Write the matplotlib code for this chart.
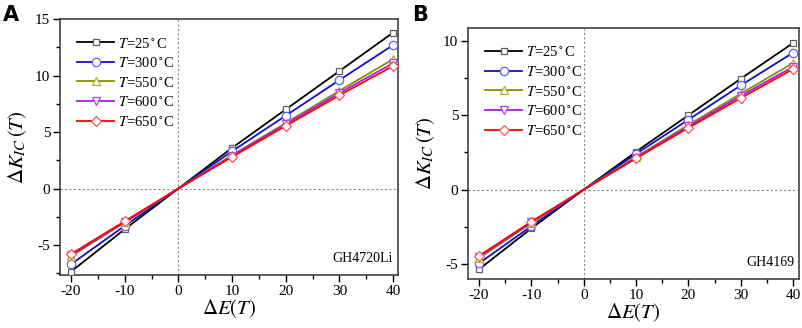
import numpy as np
import matplotlib
matplotlib.use('Agg')
import matplotlib.pyplot as plt
from matplotlib.ticker import MultipleLocator

plt.rcParams['font.family'] = ['Liberation Serif', 'DejaVu Serif']
plt.rcParams['mathtext.fontset'] = 'stix'
plt.rcParams['axes.unicode_minus'] = False

# data
dE = [-20, -10, 0, 10, 20, 30, 40]
temps = ['25', '300', '550', '600', '650']

dK_A = {
    '25':  [-7.35, -3.6, 0, 3.6, 7.0, 10.4, 13.8],
    '300': [-6.7, -3.3, 0, 3.3, 6.45, 9.6, 12.7],
    '550': [-6.0, -3.0, 0, 2.95, 5.8, 8.65, 11.45],
    '600': [-5.9, -2.95, 0, 2.9, 5.7, 8.45, 11.1],
    '650': [-5.8, -2.9, 0, 2.8, 5.55, 8.25, 10.85],
}
dK_B = {
    '25':  [-5.35, -2.6, 0, 2.55, 5.0, 7.45, 9.85],
    '300': [-4.95, -2.45, 0, 2.4, 4.7, 7.0, 9.2],
    '550': [-4.6, -2.25, 0, 2.2, 4.35, 6.45, 8.5],
    '600': [-4.5, -2.2, 0, 2.15, 4.25, 6.3, 8.25],
    '650': [-4.45, -2.15, 0, 2.1, 4.15, 6.15, 8.1],
}

line_colors = ['#000000', '#1010c8', '#8c8c00', '#a020f0', '#ff0000']
edge_colors = ['#606060', '#6060ff', '#b0b030', '#b040ff', '#ff5050']
markers = ['s', 'o', '^', 'v', 'D']
msizes = [5, 6, 6, 6, 5]

fig = plt.figure(figsize=(8.03, 3.28), dpi=100)
W, H = 803, 328


def panel(rect, data, xlim, ylim, name, letter, letter_x):
    l, t, r, b = rect
    ax = fig.add_axes([l / W, 1 - b / H, (r - l) / W, (b - t) / H])
    ax.axhline(0, color='#888888', ls=(0, (2, 2)), lw=0.8, zorder=1)
    ax.axvline(0, color='#888888', ls=(0, (2, 2)), lw=0.8, zorder=1)
    # no marker drawn at the origin in the reference
    marked = [i for i, x in enumerate(dE) if x != 0]
    for i, T in enumerate(temps):
        ax.plot(dE, data[T], color=line_colors[i], lw=1.3, marker=markers[i],
                ms=msizes[i], mfc='white', mec=edge_colors[i], mew=0.9,
                markevery=marked, label=r'$T$=' + T + r'$^\circ$C', zorder=3)
    ax.set_xlim(*xlim)
    ax.set_ylim(*ylim)
    ax.xaxis.set_major_locator(MultipleLocator(10))
    ax.xaxis.set_minor_locator(MultipleLocator(5))
    ax.yaxis.set_major_locator(MultipleLocator(5))
    ax.yaxis.set_minor_locator(MultipleLocator(2.5))
    ax.tick_params(which='both', direction='out', top=False, right=False,
                   labelsize=11, width=1, pad=2)
    ax.tick_params(which='major', length=5)
    ax.tick_params(which='minor', length=3)
    for s in ax.spines.values():
        s.set_linewidth(1.1)
        s.set_color('#333333')
    ax.set_xlabel(r'$\Delta E(T)$', fontsize=15, labelpad=0)
    ax.set_ylabel(r'$\Delta K_{IC}\,(T)$', fontsize=15, labelpad=4)
    ax.text(0.985, 0.04, name, transform=ax.transAxes, ha='right',
            va='bottom', fontsize=10)
    ax.legend(loc='upper left', frameon=False, fontsize=10.5, handlelength=2.5,
              handletextpad=0.3, labelspacing=0.38, borderaxespad=0.8,
              borderpad=0.4)
    fig.text(letter_x / W, 1 - 15 / H, letter, fontsize=15, fontweight='bold',
             family='DejaVu Sans', va='center', ha='left')
    return ax


panel((60, 19, 398, 275), dK_A, (-22.05, 40.9), (-7.65, 15), 'GH4720Li', 'A', 3)
panel((468, 28, 799, 279), dK_B, (-22.1, 41.1), (-6.0, 10.85), 'GH4169', 'B', 412)

fig.savefig('out.png', dpi=100)
